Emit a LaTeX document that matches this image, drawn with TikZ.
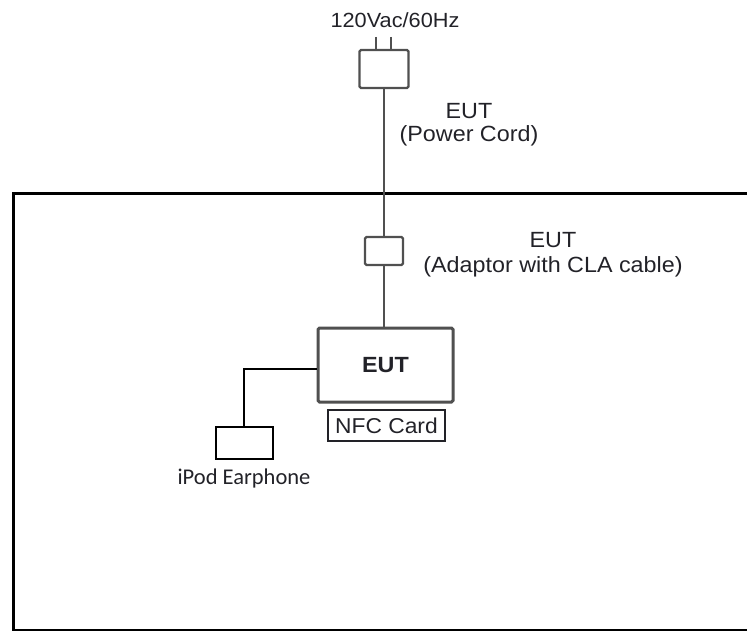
\documentclass[tikz,border=0pt]{standalone}
\usepackage{fontspec}
\setmainfont[FakeStretch=1.06]{Liberation Sans}
\newfontfamily\smallfont{Carlito}
\usetikzlibrary{positioning}
\definecolor{wire}{HTML}{505050}
\definecolor{ink}{HTML}{222228}
\begin{document}
\begin{tikzpicture}[x=1pt,y=-1pt]
  \tikzset{part/.style={draw=wire,line width=2.4pt,rounded corners=1.5pt,minimum width=#1},
           lbl/.style={text=ink,font=\fontsize{22}{23}\selectfont,align=center,inner sep=0pt},
           cord/.style={draw=wire,line width=2.5pt}}
  \useasboundingbox (0,0) rectangle (747,631);
  \clip (0,0) rectangle (747,631);
  % test table
  \draw[line width=3pt] (760,194) -- (13,194) -- (13,630) -- (760,630);
  \node[lbl,font=\fontsize{20.5}{22}\selectfont] (volt) at (395,20) {120Vac/60Hz};
  \node[part=49pt,minimum height=38pt] (plug) at (384,69) {};
  \coordinate (p1) at (376,37);
  \coordinate (p2) at (391,37);
  \draw[cord,line width=1.8pt] (p1) -- (p1 |- plug.north);
  \draw[cord,line width=1.8pt] (p2) -- (p2 |- plug.north);
  \node[part=38pt,minimum height=28pt] (adp) at (384,251) {};
  \node[part=135pt,minimum height=74pt,line width=3pt] (eut) at (385.5,365) {};
  \node[lbl,font=\fontsize{22}{23}\selectfont\bfseries] (euttxt) at (eut) {EUT};
  \node[draw=ink,line width=2pt,minimum width=117pt,minimum height=31pt,text=ink,
        font=\fontsize{21.5}{22}\selectfont,inner sep=0pt] (nfc) at (386.5,425.5) {NFC Card};
  \node[draw,line width=2pt,minimum width=57pt,minimum height=32pt] (ear) at (244,443) {};
  \node[lbl,font=\smallfont\fontsize{22.5}{23}\selectfont,below=9pt of ear] (earlbl) {iPod Earphone};
  \node[lbl] (cordlbl) at (469,125) {EUT\\(Power Cord)};
  \node[lbl,font=\fontsize{22}{25}\selectfont] (adplbl) at (553,255) {EUT\\(Adaptor with CLA cable)};
  \draw[cord] (plug) -- (adp);
  \draw[cord] (adp) -- (adp.south |- eut.north);
  \draw[line width=1.8pt] ([yshift=-4pt]eut.west) -| (ear.north);
\end{tikzpicture}
\end{document}
